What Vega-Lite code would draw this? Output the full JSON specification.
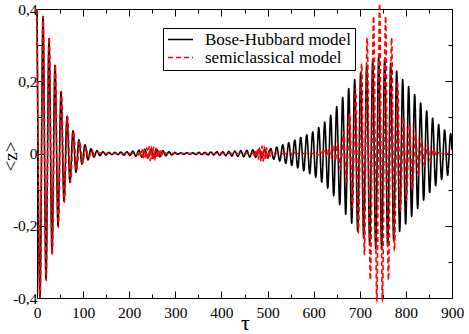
{
  "$schema": "https://vega.github.io/schema/vega-lite/v6.json",
  "width": 415,
  "height": 289,
  "autosize": {"type": "none"},
  "padding": {"left": 37, "top": 9, "right": 17, "bottom": 36},
  "background": "white",
  "config": {
    "view": {"stroke": "black", "strokeWidth": 1},
    "font": "'Liberation Serif', 'Times New Roman', serif",
    "axis": {"domain": false, "tickColor": "black", "tickWidth": 1, "labelColor": "black", "labelFont": "'Liberation Serif', 'Times New Roman', serif", "labelFontSize": 15.5, "titleFont": "'Liberation Serif', 'Times New Roman', serif", "titleColor": "black", "titleFontWeight": "normal", "grid": false, "labelOverlap": false, "labelFlush": false},
    "legend": {"labelFont": "'Liberation Serif', 'Times New Roman', serif"}
  },
  "data": {"values": [
    {"s":"B","t":0,"z":0.4},{"s":"B","t":6.5,"z":-0.398},{"s":"B","t":13,"z":0.379},{"s":"B","t":19.5,"z":-0.347},{"s":"B","t":26,"z":0.318},{"s":"B","t":32.5,"z":-0.275},{"s":"B","t":39,"z":0.244},{"s":"B","t":45.5,"z":-0.2},{"s":"B","t":52,"z":0.171},{"s":"B","t":58.5,"z":-0.132},{"s":"B","t":65,"z":0.102},{"s":"B","t":71.5,"z":-0.08},{"s":"B","t":78,"z":0.063},{"s":"B","t":84.5,"z":-0.052},{"s":"B","t":91,"z":0.038},{"s":"B","t":97.5,"z":-0.03},{"s":"B","t":104,"z":0.024},{"s":"B","t":110.5,"z":-0.018},{"s":"B","t":117,"z":0.013},{"s":"B","t":123.5,"z":-0.01},{"s":"B","t":130,"z":0.008},{"s":"B","t":136.5,"z":-0.006},{"s":"B","t":143,"z":0.005},{"s":"B","t":149.5,"z":-0.004},{"s":"B","t":156,"z":0.003},{"s":"B","t":162.5,"z":-0.003},{"s":"B","t":169,"z":0.003},{"s":"B","t":175.5,"z":-0.003},{"s":"B","t":182,"z":0.004},{"s":"B","t":188.5,"z":-0.005},{"s":"B","t":195,"z":0.005},{"s":"B","t":201.5,"z":-0.006},{"s":"B","t":208,"z":0.007},{"s":"B","t":214.5,"z":-0.008},{"s":"B","t":221,"z":0.009},{"s":"B","t":227.5,"z":-0.01},{"s":"B","t":234,"z":0.011},{"s":"B","t":240.5,"z":-0.012},{"s":"B","t":247,"z":0.012},{"s":"B","t":253.5,"z":-0.012},{"s":"B","t":260,"z":0.011},{"s":"B","t":266.5,"z":-0.009},{"s":"B","t":273,"z":0.008},{"s":"B","t":279.5,"z":-0.006},{"s":"B","t":286,"z":0.005},{"s":"B","t":292.5,"z":-0.004},{"s":"B","t":299,"z":0.003},{"s":"B","t":305.5,"z":-0.002},{"s":"B","t":312,"z":0.002},{"s":"B","t":318.5,"z":-0.002},{"s":"B","t":325,"z":0.002},{"s":"B","t":331.5,"z":-0.002},{"s":"B","t":338,"z":0.002},{"s":"B","t":344.5,"z":-0.003},{"s":"B","t":351,"z":0.003},{"s":"B","t":357.5,"z":-0.003},{"s":"B","t":364,"z":0.003},{"s":"B","t":370.5,"z":-0.004},{"s":"B","t":377,"z":0.004},{"s":"B","t":383.5,"z":-0.004},{"s":"B","t":390,"z":0.005},{"s":"B","t":396.5,"z":-0.005},{"s":"B","t":403,"z":0.005},{"s":"B","t":409.5,"z":-0.006},{"s":"B","t":416,"z":0.006},{"s":"B","t":422.5,"z":-0.007},{"s":"B","t":429,"z":0.007},{"s":"B","t":435.5,"z":-0.008},{"s":"B","t":442,"z":0.008},{"s":"B","t":448.5,"z":-0.009},{"s":"B","t":455,"z":0.009},{"s":"B","t":461.5,"z":-0.01},{"s":"B","t":468,"z":0.01},{"s":"B","t":474.5,"z":-0.011},{"s":"B","t":481,"z":0.011},{"s":"B","t":487.5,"z":-0.012},{"s":"B","t":494,"z":0.012},{"s":"B","t":500.5,"z":-0.013},{"s":"B","t":507,"z":0.014},{"s":"B","t":513.5,"z":-0.016},{"s":"B","t":520,"z":0.018},{"s":"B","t":526.5,"z":-0.021},{"s":"B","t":533,"z":0.024},{"s":"B","t":539.5,"z":-0.027},{"s":"B","t":546,"z":0.03},{"s":"B","t":552.5,"z":-0.033},{"s":"B","t":559,"z":0.037},{"s":"B","t":565.5,"z":-0.04},{"s":"B","t":572,"z":0.044},{"s":"B","t":578.5,"z":-0.048},{"s":"B","t":585,"z":0.052},{"s":"B","t":591.5,"z":-0.056},{"s":"B","t":598,"z":0.06},{"s":"B","t":604.5,"z":-0.066},{"s":"B","t":611,"z":0.072},{"s":"B","t":617.5,"z":-0.079},{"s":"B","t":624,"z":0.087},{"s":"B","t":630.5,"z":-0.096},{"s":"B","t":637,"z":0.106},{"s":"B","t":643.5,"z":-0.117},{"s":"B","t":650,"z":0.13},{"s":"B","t":656.5,"z":-0.142},{"s":"B","t":663,"z":0.155},{"s":"B","t":669.5,"z":-0.168},{"s":"B","t":676,"z":0.18},{"s":"B","t":682.5,"z":-0.193},{"s":"B","t":689,"z":0.205},{"s":"B","t":695.5,"z":-0.215},{"s":"B","t":702,"z":0.225},{"s":"B","t":708.5,"z":-0.235},{"s":"B","t":715,"z":0.245},{"s":"B","t":721.5,"z":-0.252},{"s":"B","t":728,"z":0.258},{"s":"B","t":734.5,"z":-0.263},{"s":"B","t":741,"z":0.267},{"s":"B","t":747.5,"z":-0.266},{"s":"B","t":754,"z":0.262},{"s":"B","t":760.5,"z":-0.256},{"s":"B","t":767,"z":0.25},{"s":"B","t":773.5,"z":-0.24},{"s":"B","t":780,"z":0.228},{"s":"B","t":786.5,"z":-0.216},{"s":"B","t":793,"z":0.205},{"s":"B","t":799.5,"z":-0.195},{"s":"B","t":806,"z":0.185},{"s":"B","t":812.5,"z":-0.174},{"s":"B","t":819,"z":0.163},{"s":"B","t":825.5,"z":-0.152},{"s":"B","t":832,"z":0.14},{"s":"B","t":838.5,"z":-0.129},{"s":"B","t":845,"z":0.118},{"s":"B","t":851.5,"z":-0.108},{"s":"B","t":858,"z":0.098},{"s":"B","t":864.5,"z":-0.089},{"s":"B","t":871,"z":0.08},{"s":"B","t":877.5,"z":-0.072},{"s":"B","t":884,"z":0.065},{"s":"B","t":890.5,"z":-0.06},{"s":"B","t":897,"z":0.055},{"s":"B","t":900,"z":0.01},
    {"s":"S","t":0,"z":0.4},{"s":"S","t":6.6,"z":-0.4},{"s":"S","t":13.2,"z":0.38},{"s":"S","t":19.8,"z":-0.352},{"s":"S","t":26.4,"z":0.322},{"s":"S","t":33,"z":-0.28},{"s":"S","t":39.6,"z":0.247},{"s":"S","t":46.2,"z":-0.205},{"s":"S","t":52.8,"z":0.172},{"s":"S","t":59.4,"z":-0.135},{"s":"S","t":66,"z":0.105},{"s":"S","t":72.6,"z":-0.08},{"s":"S","t":79.2,"z":0.062},{"s":"S","t":85.8,"z":-0.048},{"s":"S","t":92.4,"z":0.036},{"s":"S","t":99,"z":-0.026},{"s":"S","t":105.6,"z":0.018},{"s":"S","t":112.2,"z":-0.012},{"s":"S","t":118.8,"z":0.008},{"s":"S","t":125.4,"z":-0.005},{"s":"S","t":132,"z":0.003},{"s":"S","t":140,"z":0},{"s":"S","t":215,"z":0},
    {"s":"S","t":218,"z":0.002},{"s":"S","t":220.5,"z":-0.004},{"s":"S","t":223,"z":0.006},{"s":"S","t":225.5,"z":-0.008},{"s":"S","t":228,"z":0.01},{"s":"S","t":230.5,"z":-0.012},{"s":"S","t":233,"z":0.013},{"s":"S","t":235.5,"z":-0.015},{"s":"S","t":238,"z":0.016},{"s":"S","t":240.5,"z":-0.018},{"s":"S","t":243,"z":0.019},{"s":"S","t":245.5,"z":-0.02},{"s":"S","t":248,"z":0.02},{"s":"S","t":250.5,"z":-0.019},{"s":"S","t":253,"z":0.018},{"s":"S","t":255.5,"z":-0.017},{"s":"S","t":258,"z":0.015},{"s":"S","t":260.5,"z":-0.013},{"s":"S","t":263,"z":0.011},{"s":"S","t":265.5,"z":-0.009},{"s":"S","t":268,"z":0.007},{"s":"S","t":270.5,"z":-0.005},{"s":"S","t":273,"z":0.004},{"s":"S","t":275.5,"z":-0.003},{"s":"S","t":278,"z":0.002},{"s":"S","t":281,"z":0},{"s":"S","t":465,"z":0},
    {"s":"S","t":468,"z":0.002},{"s":"S","t":470.5,"z":-0.004},{"s":"S","t":473,"z":0.007},{"s":"S","t":475.5,"z":-0.01},{"s":"S","t":478,"z":0.013},{"s":"S","t":480.5,"z":-0.016},{"s":"S","t":483,"z":0.018},{"s":"S","t":485.5,"z":-0.02},{"s":"S","t":488,"z":0.021},{"s":"S","t":490.5,"z":-0.021},{"s":"S","t":493,"z":0.02},{"s":"S","t":495.5,"z":-0.018},{"s":"S","t":498,"z":0.016},{"s":"S","t":500.5,"z":-0.013},{"s":"S","t":503,"z":0.01},{"s":"S","t":505.5,"z":-0.008},{"s":"S","t":508,"z":0.006},{"s":"S","t":510.5,"z":-0.004},{"s":"S","t":513,"z":0.002},{"s":"S","t":516,"z":0},{"s":"S","t":545,"z":0},
    {"s":"S","t":549,"z":0.005},{"s":"S","t":553,"z":-0.004},{"s":"S","t":557,"z":0.003},{"s":"S","t":561,"z":0},{"s":"S","t":600,"z":0},{"s":"S","t":605,"z":0.006},{"s":"S","t":609,"z":-0.005},{"s":"S","t":614,"z":0.009},{"s":"S","t":619,"z":-0.006},{"s":"S","t":624,"z":0.012},{"s":"S","t":629,"z":-0.008},{"s":"S","t":633,"z":0.015},{"s":"S","t":638,"z":-0.012},{"s":"S","t":642,"z":0.025},{"s":"S","t":647,"z":-0.02},{"s":"S","t":652,"z":0.03},{"s":"S","t":658,"z":-0.045},{"s":"S","t":665,"z":0.06},{"s":"S","t":671,"z":-0.085},{"s":"S","t":678,"z":0.11},{"s":"S","t":684,"z":-0.15},{"s":"S","t":691,"z":0.18},{"s":"S","t":697,"z":-0.22},{"s":"S","t":704,"z":0.25},{"s":"S","t":710,"z":-0.28},{"s":"S","t":716,"z":0.32},{"s":"S","t":723,"z":-0.35},{"s":"S","t":730,"z":0.38},{"s":"S","t":737,"z":-0.41},{"s":"S","t":743,"z":0.415},{"s":"S","t":749,"z":-0.41},{"s":"S","t":756,"z":0.38},{"s":"S","t":762,"z":-0.35},{"s":"S","t":769,"z":0.32},{"s":"S","t":775,"z":-0.27},{"s":"S","t":782,"z":0.2},{"s":"S","t":788,"z":-0.16},{"s":"S","t":795,"z":0.1},{"s":"S","t":801,"z":-0.13},{"s":"S","t":808,"z":0.08},{"s":"S","t":814,"z":-0.1},{"s":"S","t":821,"z":0.06},{"s":"S","t":827,"z":-0.06},{"s":"S","t":834,"z":0.04},{"s":"S","t":840,"z":-0.035},{"s":"S","t":847,"z":0.025},{"s":"S","t":853,"z":-0.02},{"s":"S","t":860,"z":0.012},{"s":"S","t":866,"z":-0.006},{"s":"S","t":872,"z":0.003},{"s":"S","t":878,"z":0},{"s":"S","t":900,"z":0}
  ]},
  "layer": [
    {
      "transform": [{"filter": "datum.s === 'B'"}],
      "mark": {"type": "line", "interpolate": "monotone", "strokeWidth": 1.6},
      "encoding": {
        "x": {"field": "t", "type": "quantitative", "scale": {"domain": [0, 900], "nice": false, "zero": false},
          "axis": {"orient": "bottom", "values": [0,50,100,150,200,250,300,350,400,450,500,550,600,650,700,750,800,850,900],
            "tickSize": {"condition": {"test": "datum.value % 100 === 0", "value": -7}, "value": -4},
            "labelExpr": "datum.value % 100 === 0 ? '' + datum.value : ''", "labelPadding": 14,
            "title": "τ", "titleFontSize": 22, "titleX": 208, "titleY": 24, "titleBaseline": "middle", "titleAlign": "center"}},
        "y": {"field": "z", "type": "quantitative", "scale": {"domain": [-0.4, 0.4], "nice": false, "zero": false},
          "axis": {"orient": "left", "values": [-0.4,-0.3,-0.2,-0.1,0,0.1,0.2,0.3,0.4],
            "tickSize": {"condition": {"test": "abs(round(datum.value*10)) % 2 === 0", "value": -7}, "value": -4},
            "labelExpr": "abs(round(datum.value*10)) % 2 !== 0 ? '' : (round(datum.value*10) === 0 ? '0' : (datum.value < 0 ? '-0,' : '0,') + abs(round(datum.value*10)))",
            "labelPadding": 7,
            "title": "<z>", "titleFontSize": 19, "titleX": -27, "titleY": 147, "titleAngle": 270, "titleBaseline": "middle", "titleAlign": "center"}},
        "color": {"field": "s", "type": "nominal", "scale": {"domain": ["B", "S"], "range": ["#000000", "#ff0000"]},
          "legend": {"orient": "none", "legendX": 126, "legendY": 19, "title": null, "strokeColor": "black", "fillColor": "white", "padding": 4, "symbolType": "stroke", "symbolSize": 625, "symbolStrokeWidth": 1.6, "labelFont": "'Liberation Serif', 'Times New Roman', serif", "labelFontSize": 17, "labelColor": "black", "labelOffset": 11, "clipHeight": 15, "rowPadding": 0,
            "labelExpr": "datum.value === 'B' ? 'Bose-Hubbard model' : 'semiclassical model'"}},
        "strokeDash": {"field": "s", "type": "nominal", "scale": {"domain": ["B", "S"], "range": [[1, 0], [5, 3]]},
          "legend": {"orient": "none", "legendX": 126, "legendY": 19, "title": null, "strokeColor": "black", "fillColor": "white", "padding": 4, "symbolType": "stroke", "symbolSize": 625, "symbolStrokeWidth": 1.6, "labelFont": "'Liberation Serif', 'Times New Roman', serif", "labelFontSize": 17, "labelColor": "black", "labelOffset": 11, "clipHeight": 15, "rowPadding": 0,
            "labelExpr": "datum.value === 'B' ? 'Bose-Hubbard model' : 'semiclassical model'"}}
      }
    },
    {
      "transform": [{"filter": "datum.s === 'S'"}],
      "mark": {"type": "line", "interpolate": "monotone", "strokeWidth": 1.6},
      "encoding": {
        "x": {"field": "t", "type": "quantitative",
          "axis": {"orient": "top", "values": [0,50,100,150,200,250,300,350,400,450,500,550,600,650,700,750,800,850,900],
            "tickSize": {"condition": {"test": "datum.value % 100 === 0", "value": -7}, "value": -4},
            "labels": false, "title": null}},
        "y": {"field": "z", "type": "quantitative",
          "axis": {"orient": "right", "values": [-0.4,-0.3,-0.2,-0.1,0,0.1,0.2,0.3,0.4],
            "tickSize": {"condition": {"test": "abs(round(datum.value*10)) % 2 === 0", "value": -7}, "value": -4},
            "labels": false, "title": null}},
        "color": {"field": "s", "type": "nominal"},
        "strokeDash": {"field": "s", "type": "nominal"}
      }
    }
  ],
  "resolve": {"axis": {"x": "independent", "y": "independent"}}
}
